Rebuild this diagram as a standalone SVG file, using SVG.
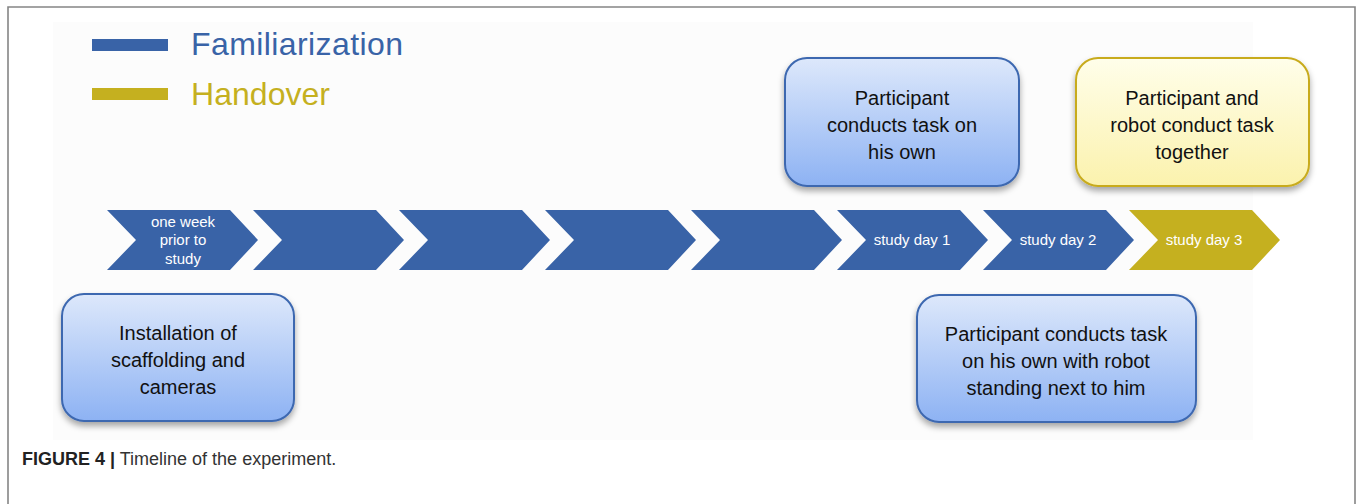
<svg xmlns="http://www.w3.org/2000/svg" width="1358" height="504" viewBox="0 0 1358 504">
<style>
.chev{fill:#3963a7}
.chevg{fill:#c5b01f}
.ct{font-family:"Liberation Sans",Arial,sans-serif;font-size:15px;fill:#ffffff;text-anchor:middle}
.bt{font-family:"Liberation Sans",Arial,sans-serif;font-size:20px;fill:#111111;text-anchor:middle}
.blue{fill:url(#gb);stroke:#3d68b0;stroke-width:2}
.yel{fill:url(#gy);stroke:#c8ab1e;stroke-width:2}
</style>
<defs>
<linearGradient id="gb" x1="0" y1="0" x2="0" y2="1">
<stop offset="0" stop-color="#dde8fb"/>
<stop offset="1" stop-color="#8db2f3"/>
</linearGradient>
<linearGradient id="gy" x1="0" y1="0" x2="0" y2="1">
<stop offset="0" stop-color="#fffeea"/>
<stop offset="1" stop-color="#fbf2ad"/>
</linearGradient>
<filter id="sh" x="-10%" y="-10%" width="120%" height="130%">
<feDropShadow dx="0" dy="4" stdDeviation="3" flood-color="#000" flood-opacity="0.35"/>
</filter>
</defs>
<rect x="0" y="0" width="1358" height="504" fill="#ffffff"/>
<rect x="53" y="22" width="1200" height="418" fill="#fcfcfc"/>
<path d="M8,504 V7 H1355 V504" fill="none" stroke="#858585" stroke-width="1.6"/>
<g id="legend">
<rect x="92" y="39" width="76" height="12" fill="#3963a7"/>
<text x="191" y="55" font-family="'Liberation Sans',Arial,sans-serif" font-size="32" fill="#3963a7" textLength="212">Familiarization</text>
<rect x="92" y="88" width="76" height="12" fill="#c5b01f"/>
<text x="191" y="105" font-family="'Liberation Sans',Arial,sans-serif" font-size="32" fill="#c5b01f" textLength="139">Handover</text>
</g>
<g id="timeline">
<g id="c1"><polygon class="chev" points="107,210 230,210 258,240 230,270 107,270 136,240"/>
<text class="ct" x="183" y="227">one week</text><text class="ct" x="183" y="245">prior to</text><text class="ct" x="183" y="264">study</text></g>
<g id="c2"><polygon class="chev" points="253,210 376,210 404,240 376,270 253,270 282,240"/></g>
<g id="c3"><polygon class="chev" points="399,210 522,210 550,240 522,270 399,270 428,240"/></g>
<g id="c4"><polygon class="chev" points="545,210 668,210 696,240 668,270 545,270 574,240"/></g>
<g id="c5"><polygon class="chev" points="691,210 814,210 842,240 814,270 691,270 720,240"/></g>
<g id="c6"><polygon class="chev" points="837,210 960,210 988,240 960,270 837,270 866,240"/>
<text class="ct" x="912" y="245">study day 1</text></g>
<g id="c7"><polygon class="chev" points="983,210 1106,210 1134,240 1106,270 983,270 1012,240"/>
<text class="ct" x="1058" y="245">study day 2</text></g>
<g id="c8"><polygon class="chevg" points="1129,210 1252,210 1280,240 1252,270 1129,270 1158,240"/>
<text class="ct" x="1204" y="245">study day 3</text></g>
</g>
<g id="connectors"></g>
<g id="box1">
<rect class="blue" x="785" y="58" width="234" height="128" rx="22" filter="url(#sh)"/>
<text class="bt" x="902" y="105">Participant</text>
<text class="bt" x="902" y="132">conducts task on</text>
<text class="bt" x="902" y="159">his own</text>
</g>
<g id="box2">
<rect class="yel" x="1076" y="58" width="233" height="128" rx="22" filter="url(#sh)"/>
<text class="bt" x="1192" y="105">Participant and</text>
<text class="bt" x="1192" y="132">robot conduct task</text>
<text class="bt" x="1192" y="159">together</text>
</g>
<g id="box3">
<rect class="blue" x="62" y="294" width="232" height="127" rx="22" filter="url(#sh)"/>
<text class="bt" x="178" y="340">Installation of</text>
<text class="bt" x="178" y="367">scaffolding and</text>
<text class="bt" x="178" y="394">cameras</text>
</g>
<g id="box4">
<rect class="blue" x="917" y="295" width="279" height="127" rx="22" filter="url(#sh)"/>
<text class="bt" x="1056" y="341">Participant conducts task</text>
<text class="bt" x="1056" y="368">on his own with robot</text>
<text class="bt" x="1056" y="395">standing next to him</text>
</g>
<g id="caption">
<text x="22" y="465" font-family="'Liberation Sans',Arial,sans-serif" font-size="18" fill="#333333"><tspan font-weight="bold" fill="#222222">FIGURE 4 |</tspan> Timeline of the experiment.</text>
</g>
</svg>
